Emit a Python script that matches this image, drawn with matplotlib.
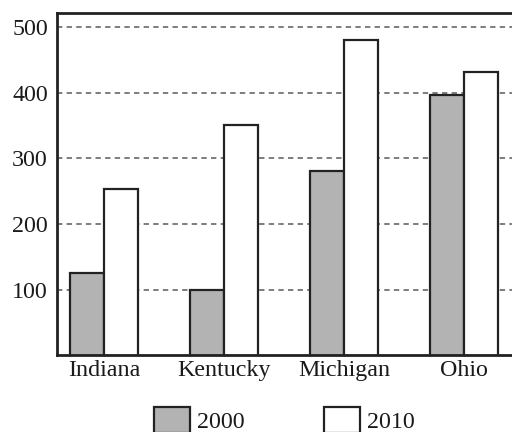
import matplotlib
matplotlib.use("Agg")
import matplotlib.pyplot as plt
from matplotlib.patches import Patch
import numpy as np

states = ["Indiana", "Kentucky", "Michigan", "Ohio"]
values_2000 = [126, 100, 281, 397]
values_2010 = [253, 351, 480, 432]
yticks = [100, 200, 300, 400, 500]
series_labels = ["2000", "2010"]

plt.rcParams['font.family'] = ['Liberation Serif', 'DejaVu Serif']

W, H = 512, 432
fig = plt.figure(figsize=(W / 100, H / 100), dpi=100)
left_px, right_px, top_px, bottom_px = 57, 515, 13, 355
ax = fig.add_axes([left_px / W, 1 - bottom_px / H, (right_px - left_px) / W, (bottom_px - top_px) / H])

x = np.arange(len(states))
bw = 0.285
edge = "#222222"
txt = "#1a1a1a"
ax.bar(x - bw / 2, values_2000, bw, color="#b3b3b3", edgecolor=edge, linewidth=1.6, zorder=3)
ax.bar(x + bw / 2, values_2010, bw, color="white", edgecolor=edge, linewidth=1.6, zorder=3)

ax.set_xlim(-47 / 120, -47 / 120 + (right_px - left_px) / 120)
ax.set_ylim(1.8, 520.8)
ax.set_yticks(yticks)
ax.set_xticks(x)
ax.set_xticklabels(states)
ax.tick_params(axis="both", length=0, labelsize=17.3, colors=txt)
ax.tick_params(axis="y", pad=6.5)
ax.tick_params(axis="x", pad=3.5)

for yv in yticks:
    ln = ax.axhline(yv, color="#5a5a5a", linewidth=1.1, zorder=1)
    ln.set_dashes((3.5, 2.8))

for s in ax.spines.values():
    s.set_linewidth(2.0)
    s.set_color("#222222")
    s.set_zorder(4)

handles = [Patch(facecolor="#b3b3b3", edgecolor=edge, linewidth=1.6),
           Patch(facecolor="white", edgecolor=edge, linewidth=1.6)]
leg = fig.legend(handles, series_labels, loc="upper left", ncol=2,
                 bbox_to_anchor=(154 / W, 1 - 407 / H), frameon=False,
                 fontsize=17.3, handlelength=1.5, handleheight=1.3,
                 handletextpad=0.3, columnspacing=3.3, borderpad=0,
                 borderaxespad=0)
for t in leg.get_texts():
    t.set_color(txt)

fig.savefig("out.png", dpi=100)
